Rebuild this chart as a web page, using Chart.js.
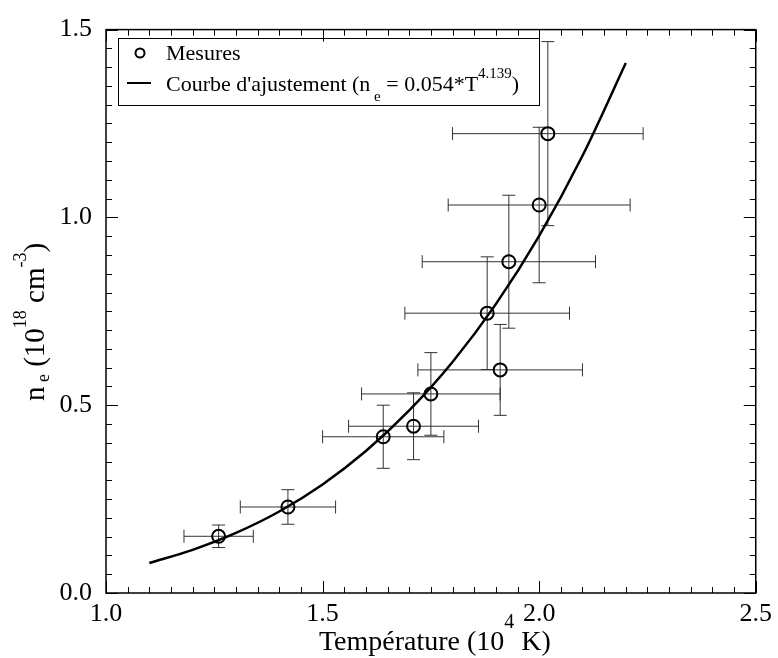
<!DOCTYPE html>
<html>
<head>
<meta charset="utf-8">
<script src="https://cdn.jsdelivr.net/npm/chart.js@4.4.1/dist/chart.umd.min.js"></script>
<style>
  html, body { margin: 0; padding: 0; background: #fff; }
  #wrap { width: 778px; height: 658px; }
</style>
</head>
<body>
<div id="wrap"><canvas id="chart"></canvas></div>
<script>
// mesures : température (10^4 K) et densité électronique (10^18 cm^-3)
var tempX   = [1.26, 1.42, 1.64, 1.71, 1.75, 1.88, 1.91, 1.93, 2.00, 2.02];
var densY   = [0.151, 0.229, 0.416, 0.444, 0.530, 0.745, 0.594, 0.882, 1.033, 1.223];
var tempErr = [0.08, 0.11, 0.14, 0.15, 0.16, 0.19, 0.19, 0.20, 0.21, 0.22];
var densErr = [0.030, 0.046, 0.084, 0.089, 0.110, 0.150, 0.121, 0.177, 0.207, 0.245];

// courbe d'ajustement
var fitX = [1.1, 1.2, 1.3, 1.4, 1.5, 1.6, 1.7, 1.8, 1.9, 2.0, 2.1, 2.2];
var fitY = [0.080, 0.115, 0.160, 0.217, 0.289, 0.378, 0.486, 0.615, 0.769, 0.951, 1.164, 1.411];

var xTicks = [1.0, 1.5, 2.0, 2.5];
var yTicks = [0.0, 0.5, 1.0, 1.5];

var serif = '"Liberation Serif", "Times New Roman", serif';

function drawRich(ctx, parts, x, y, size, align, supOff, subOff, smallSize) {
    var w = 0;
    parts.forEach(function (p) {
        ctx.font = (p[1] ? smallSize : size) + 'px ' + serif;
        w += ctx.measureText(p[0]).width;
    });
    var cx = align === 'center' ? x - w / 2 : x;
    ctx.textAlign = 'left';
    ctx.textBaseline = 'alphabetic';
    parts.forEach(function (p) {
        ctx.font = (p[1] ? smallSize : size) + 'px ' + serif;
        var dy = p[1] === 1 ? -supOff : (p[1] === -1 ? subOff : 0);
        ctx.fillText(p[0], cx, y + dy);
        cx += ctx.measureText(p[0]).width;
    });
}

var framePlugin = {
    id: 'frame',
    beforeDatasetsDraw: function (chart) {
        var ctx = chart.ctx, xs = chart.scales.x, ys = chart.scales.y;
        ctx.save();
        ctx.strokeStyle = '#333';
        ctx.lineWidth = 1;
        var cap = 6.5;
        for (var i = 0; i < tempX.length; i++) {
            var px = xs.getPixelForValue(tempX[i]);
            var py = ys.getPixelForValue(densY[i]);
            var x1 = xs.getPixelForValue(tempX[i] - tempErr[i]);
            var x2 = xs.getPixelForValue(tempX[i] + tempErr[i]);
            var y1 = ys.getPixelForValue(densY[i] - densErr[i]);
            var y2 = ys.getPixelForValue(densY[i] + densErr[i]);
            ctx.beginPath();
            ctx.moveTo(x1, py); ctx.lineTo(x2, py);
            ctx.moveTo(x1, py - cap); ctx.lineTo(x1, py + cap);
            ctx.moveTo(x2, py - cap); ctx.lineTo(x2, py + cap);
            ctx.moveTo(px, y1); ctx.lineTo(px, y2);
            ctx.moveTo(px - cap, y1); ctx.lineTo(px + cap, y1);
            ctx.moveTo(px - cap, y2); ctx.lineTo(px + cap, y2);
            ctx.stroke();
        }
        ctx.restore();
    },
    afterDraw: function (chart) {
        var ctx = chart.ctx, a = chart.chartArea;
        var xs = chart.scales.x, ys = chart.scales.y;
        ctx.save();
        ctx.strokeStyle = '#000';
        ctx.lineWidth = 1.5;
        ctx.strokeRect(a.left, a.top, a.right - a.left, a.bottom - a.top);

        // graduations intérieures sur les quatre côtés
        ctx.lineWidth = 1;
        ctx.beginPath();
        for (var k = 0; k <= 30; k++) {
            var v = 1.0 + k * 0.05;
            var px = Math.round(xs.getPixelForValue(v)) + 0.5;
            var len = (k % 10 === 0) ? 12 : 6;
            ctx.moveTo(px, a.bottom); ctx.lineTo(px, a.bottom - len);
            ctx.moveTo(px, a.top); ctx.lineTo(px, a.top + len);
        }
        for (var j = 0; j <= 30; j++) {
            var w = j * 0.05;
            var py = Math.round(ys.getPixelForValue(w)) + 0.5;
            var ln = (j % 10 === 0) ? 12 : 6;
            ctx.moveTo(a.left, py); ctx.lineTo(a.left + ln, py);
            ctx.moveTo(a.right, py); ctx.lineTo(a.right - ln, py);
        }
        ctx.stroke();

        // légende
        ctx.lineWidth = 1;
        ctx.strokeRect(118.5, 38.5, 421, 67);
        ctx.lineWidth = 2;
        ctx.beginPath();
        ctx.arc(140, 53, 4.5, 0, Math.PI * 2);
        ctx.stroke();
        ctx.beginPath();
        ctx.moveTo(127, 83); ctx.lineTo(151, 83);
        ctx.stroke();
        ctx.fillStyle = '#000';
        drawRich(ctx, [['Mesures', 0]], 166, 60, 22, 'left', 13, 10, 15);
        drawRich(ctx, [["Courbe d'ajustement (n", 0], [' e', -1], [' = 0.054*T', 0], ['4.139', 1], [')', 0]],
            166, 91, 22, 'left', 13, 10, 15);

        // titres des axes
        drawRich(ctx, [['Température (10', 0], ['4', 1], [' K)', 0]],
            (a.left + a.right) / 2 + 4, 650, 28, 'center', 22, 0, 20);
        ctx.translate(44, 322);
        ctx.rotate(-Math.PI / 2);
        drawRich(ctx, [['n', 0], [' e', -1], [' (10', 0], ['18', 1], [' cm', 0], ['-3', 1], [')', 0]],
            0, 0, 29, 'center', 18, 5, 18);
        ctx.restore();
    }
};

var ctx = document.getElementById('chart').getContext('2d');
var chart = new Chart(ctx, {
    type: 'scatter',
    data: {
        datasets: [{
            label: 'Mesures',
            data: tempX.map(function (x, i) { return { x: x, y: densY[i] }; }),
            pointStyle: 'circle',
            pointRadius: 6.5,
            pointHoverRadius: 6.5,
            pointBorderWidth: 2,
            pointBorderColor: '#000',
            pointBackgroundColor: 'rgba(0,0,0,0)',
            showLine: false,
            order: 2
        }, {
            label: "Courbe d'ajustement",
            data: fitX.map(function (x, i) { return { x: x, y: fitY[i] }; }),
            showLine: true,
            borderColor: '#000',
            borderWidth: 2.5,
            pointRadius: 0,
            cubicInterpolationMode: 'monotone',
            fill: false,
            order: 1
        }]
    },
    options: {
        responsive: true,
        maintainAspectRatio: false,
        animation: false,
        events: [],
        layout: { padding: { left: 0, top: 20, right: 19, bottom: 0 } },
        plugins: { legend: { display: false }, tooltip: { enabled: false } },
        scales: {
            x: {
                type: 'linear',
                min: 1.0, max: 2.5,
                afterBuildTicks: function (s) { s.ticks = xTicks.map(function (v) { return { value: v }; }); },
                afterFit: function (s) { s.height = 65; },
                grid: { display: false, drawTicks: false },
                border: { display: false },
                ticks: {
                    padding: 6,
                    color: '#000',
                    font: { family: serif, size: 26 },
                    maxRotation: 0,
                    callback: function (v) { return v.toFixed(1); }
                }
            },
            y: {
                type: 'linear',
                min: 0, max: 1.5,
                afterBuildTicks: function (s) { s.ticks = yTicks.map(function (v) { return { value: v }; }); },
                afterFit: function (s) { s.width = 106; },
                grid: { display: false, drawTicks: false },
                border: { display: false },
                ticks: {
                    padding: 14,
                    color: '#000',
                    font: { family: serif, size: 26 },
                    callback: function (v) { return v.toFixed(1); }
                }
            }
        }
    },
    plugins: [framePlugin]
});
</script>
</body>
</html>
